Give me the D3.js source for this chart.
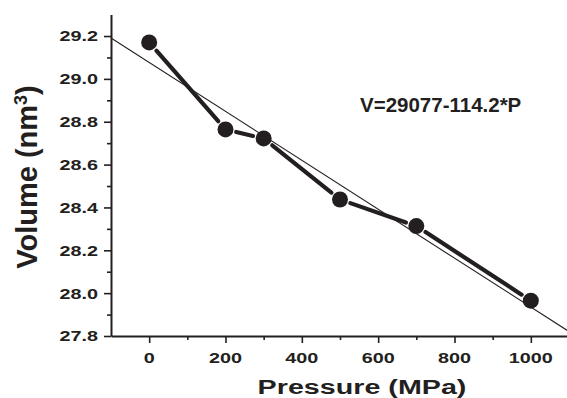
<!DOCTYPE html>
<html>
<head>
<meta charset="utf-8">
<script src="https://cdn.jsdelivr.net/npm/d3@7"></script>
<style>
  html, body { margin: 0; padding: 0; background: #fff; }
  svg { display: block; }
  text { font-family: "Liberation Sans", Arial, sans-serif; font-weight: bold; fill: #231f20; }
</style>
</head>
<body>
<svg id="chart" width="567" height="398"></svg>
<script>
// Measured volume vs. pressure
const pressure = [0, 200, 300, 500, 700, 1000];          // MPa
const volume   = [29.17, 28.764, 28.722, 28.437, 28.313, 27.965]; // nm^3

// Linear fit V = a + b*P (P in MPa, V in nm^3)
const fitIntercept = 29.077;
const fitSlope = -0.001142;
const fitLabel = "V=29077-114.2*P";

// Axis ticks
const xMajor = [0, 200, 400, 600, 800, 1000];
const xMinor = [-100, 100, 300, 500, 700, 900, 1100];
const yMajor = [27.8, 28.0, 28.2, 28.4, 28.6, 28.8, 29.0, 29.2];
const yMinor = [27.9, 28.1, 28.3, 28.5, 28.7, 28.9, 29.1, 29.3];
const xDomain = [-100, 1100];
const yDomain = [27.8, 29.3];

const svg = d3.select("#chart");
const ink = "#231f20";

const x = d3.scaleLinear().domain(xDomain).range([111, 569]);
const y = d3.scaleLinear().domain(yDomain).range([336, 14.6]);

// Axes: major ticks long, minor ticks short, both pointing outward
function styleAxis(g) {
  g.selectAll("path.domain").attr("stroke", ink).attr("stroke-width", 2);
  g.selectAll(".tick line").attr("stroke", ink).attr("stroke-width", 1.6);
  g.selectAll(".tick text").remove();
}
svg.append("g").attr("transform", `translate(0,${y(yDomain[0])})`)
  .call(d3.axisBottom(x).tickValues(xMajor).tickSize(7).tickSizeOuter(0)).call(styleAxis);
svg.append("g").attr("transform", `translate(0,${y(yDomain[0])})`)
  .call(d3.axisBottom(x).tickValues(xMinor.filter(v => v > xDomain[0] && v < xDomain[1])).tickSize(4).tickSizeOuter(0))
  .call(styleAxis).select("path.domain").remove();
svg.append("g").attr("transform", `translate(${x(xDomain[0])},0)`)
  .call(d3.axisLeft(y).tickValues(yMajor).tickSize(7).tickSizeOuter(0)).call(styleAxis);
svg.append("g").attr("transform", `translate(${x(xDomain[0])},0)`)
  .call(d3.axisLeft(y).tickValues(yMinor.filter(v => v > yDomain[0] && v < yDomain[1])).tickSize(4).tickSizeOuter(0))
  .call(styleAxis).select("path.domain").remove();

// Tick labels (wide bold digits)
const tickScaleX = 1.32;
svg.append("g").selectAll("text").data(yMajor).join("text")
  .attr("transform", d => `translate(98,${y(d)}) scale(${tickScaleX},1)`)
  .attr("text-anchor", "end").attr("dy", "0.36em")
  .style("font-size", "15px")
  .text(d => d3.format(".1f")(d));
svg.append("g").selectAll("text").data(xMajor).join("text")
  .attr("transform", d => `translate(${x(d)},362.5) scale(${tickScaleX},1)`)
  .attr("text-anchor", "middle")
  .style("font-size", "15px")
  .text(d => d);

// Axis titles
svg.append("text")
  .attr("transform", "translate(362,394) scale(1.4,1)")
  .attr("text-anchor", "middle")
  .style("font-size", "20.5px")
  .text("Pressure (MPa)");

const yTitle = svg.append("text")
  .attr("transform", "translate(37,177) rotate(-90)")
  .attr("text-anchor", "middle")
  .style("font-size", "29px");
yTitle.append("tspan").text("Volume (nm");
yTitle.append("tspan").attr("dy", "-0.55em").style("font-size", "18px").text("3");
yTitle.append("tspan").attr("dy", "0.34em").text(")");

// Fit line across the full pressure range
svg.append("line")
  .attr("x1", x(xDomain[0])).attr("y1", y(fitIntercept + fitSlope * xDomain[0]))
  .attr("x2", x(xDomain[1])).attr("y2", y(fitIntercept + fitSlope * xDomain[1]))
  .attr("stroke", ink).attr("stroke-width", 1.1);

// Connecting segments, stopping short of each marker
const pts = pressure.map((p, i) => [x(p), y(volume[i])]);
const gap = 11;
const segs = d3.pairs(pts).map(([a, b]) => {
  const dx = b[0] - a[0], dy = b[1] - a[1], L = Math.hypot(dx, dy);
  const ux = dx / L, uy = dy / L;
  return [a[0] + ux * gap, a[1] + uy * gap, b[0] - ux * gap, b[1] - uy * gap];
});
svg.append("g").selectAll("line").data(segs).join("line")
  .attr("x1", d => d[0]).attr("y1", d => d[1])
  .attr("x2", d => d[2]).attr("y2", d => d[3])
  .attr("stroke", ink).attr("stroke-width", 4.2).attr("stroke-linecap", "round");

// Markers
svg.append("g").selectAll("circle").data(pressure).join("circle")
  .attr("cx", d => x(d)).attr("cy", (d, i) => y(volume[i]))
  .attr("r", 8).attr("fill", ink);

// Fit equation
svg.append("text")
  .attr("x", 360).attr("y", 111.5)
  .style("font-size", "20.5px")
  .text(fitLabel);
</script>
</body>
</html>
